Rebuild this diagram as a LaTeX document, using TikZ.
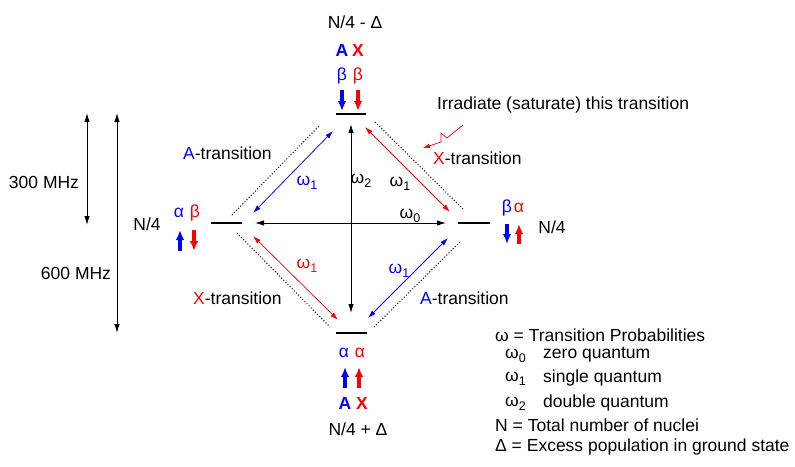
\documentclass[tikz,border=0pt]{standalone}
\usepackage{fontspec}
\setmainfont{Liberation Sans}
\usetikzlibrary{arrows.meta}
\definecolor{ablue}{RGB}{0,0,255}
\definecolor{xred}{RGB}{255,0,0}
\newcommand{\om}[1]{ω\raisebox{-4pt}{\fontsize{12.5}{12}\selectfont #1}}
\begin{document}
\begin{tikzpicture}[x=1pt,y=-1pt,
  font=\fontsize{17.5}{19}\selectfont,
  lvl/.style={line width=1.3pt},
  blk/.style={line width=1pt,{Latex[length=9pt,width=5.5pt]}-{Latex[length=9pt,width=5.5pt]}},
  tr/.style={line width=0.75pt,{Latex[length=8pt,width=5pt]}-{Latex[length=8pt,width=5pt]}},
  dots/.style={dotted,line width=1pt},
  spin/.style={line width=3.2pt,-{Latex[length=10pt,width=8.5pt]}},
  lbl/.style={inner sep=0pt},
  bold/.style={inner sep=0pt,font=\fontsize{17.5}{19}\selectfont\bfseries}]
\useasboundingbox (0,0) rectangle (795,466);

% energy levels
\draw[lvl] (336,114) coordinate (t1) -- (366,114) coordinate (t2);
\draw[lvl] (336,333) coordinate (b1) -- (367,333) coordinate (b2);
\draw[lvl] (211,223) coordinate (l1) -- (242,223) coordinate (l2);
\draw[lvl] (458,223) coordinate (r1) -- (490,223) coordinate (r2);

% level labels top
\node[lbl] (ntop) at (355,22) {N/4 - Δ};
\node[bold,text=ablue] (ta) at (342,50) {A};
\node[bold,text=xred] (tx) at (358,50) {X};
\node[lbl,text=ablue] (tb1) at (342,76) {β};
\node[lbl,text=xred] (tb2) at (358,76) {β};
\draw[spin,ablue] (342,90) coordinate (ts1) -- (342,111) coordinate (ts1e);
\draw[spin,xred] (358,90) coordinate (ts2) -- (358,111) coordinate (ts2e);

% left
\node[lbl] (nleft) at (147,224) {N/4};
\node[lbl,text=ablue] (la) at (179,213) {α};
\node[lbl,text=xred] (lb) at (195,213) {β};
\draw[spin,ablue] (180,251) coordinate (ls1) -- (180,230) coordinate (ls1e);
\draw[spin,xred] (194,230) coordinate (ls2) -- (194,251) coordinate (ls2e);

% right
\node[lbl] (nright) at (552,227) {N/4};
\node[lbl,text=ablue] (rb) at (507,208) {β};
\node[lbl,text=xred] (ra) at (519,208) {α};
\draw[spin,ablue] (507,224) coordinate (rs1) -- (507,244) coordinate (rs1e);
\draw[spin,xred] (519,244) coordinate (rs2) -- (519,224) coordinate (rs2e);

% bottom
\node[lbl,text=ablue] (ba1) at (344,353) {α};
\node[lbl,text=xred] (ba2) at (360,353) {α};
\draw[spin,ablue] (345,388) coordinate (bs1) -- (345,367) coordinate (bs1e);
\draw[spin,xred] (359,388) coordinate (bs2) -- (359,367) coordinate (bs2e);
\node[bold,text=ablue] (ba) at (345,403) {A};
\node[bold,text=xred] (bx) at (362,403) {X};
\node[lbl] (nbot) at (358,429) {N/4 + Δ};

% transitions
\coordinate (vt) at (351,124);
\coordinate (vb) at (351,313);
\coordinate (hl) at (255,223);
\coordinate (hr) at (446,223);
\draw[blk] (vt) -- (vb);
\draw[blk] (hl) -- (hr);

\coordinate (ul1) at (253,213); \coordinate (ul2) at (333,131);
\coordinate (ur1) at (365,127); \coordinate (ur2) at (450,212);
\coordinate (ll1) at (253,236); \coordinate (ll2) at (338,320);
\coordinate (lr1) at (448,238); \coordinate (lr2) at (368,318);
\draw[tr,ablue] (ul1) -- (ul2);
\draw[tr,xred] (ur1) -- (ur2);
\draw[tr,xred] (ll1) -- (ll2);
\draw[tr,ablue] (lr1) -- (lr2);

% dotted guides
\coordinate (d1a) at (232,215); \coordinate (d1b) at (320,125);
\coordinate (d2a) at (375,122); \coordinate (d2b) at (463,209);
\coordinate (d3a) at (237,233); \coordinate (d3b) at (330,327);
\coordinate (d4a) at (460,242); \coordinate (d4b) at (373,328);
\draw[dots] (d1a) -- (d1b);
\draw[dots] (d2a) -- (d2b);
\draw[dots] (d3a) -- (d3b);
\draw[dots] (d4a) -- (d4b);

% omega labels
\node[lbl,text=ablue] (w1ul) at (307,183) {\om{1}};
\node[lbl] (w2) at (361,181) {\om{2}};
\node[lbl] (w1ur) at (400,184) {\om{1}};
\node[lbl] (w0) at (410,216) {\om{0}};
\node[lbl,text=xred] (w1ll) at (307,266) {\om{1}};
\node[lbl,text=ablue] (w1lr) at (399,271) {\om{1}};

% transition names
\node[lbl,anchor=west] (atul) at (183,153) {\textcolor{ablue}{A}-transition};
\node[lbl,anchor=west] (xtur) at (433,158) {\textcolor{xred}{X}-transition};
\node[lbl,anchor=west] (xtll) at (193,298) {\textcolor{xred}{X}-transition};
\node[lbl,anchor=west] (atlr) at (420,298) {\textcolor{ablue}{A}-transition};

% irradiate
\node[lbl,anchor=west] (irr) at (437,105) {Irradiate (saturate) this transition};
\coordinate (zs) at (463,125);
\coordinate (zt) at (423,148);
\draw[xred,line width=0.7pt,-{Latex[length=7pt,width=4.5pt]}] (zs) -- (447,138) -- (441,133) -- (441,142) -- (zt);

% frequency scales
\coordinate (f3a) at (87,113); \coordinate (f3b) at (87,225);
\coordinate (f6a) at (117,113); \coordinate (f6b) at (117,333);
\draw[blk] (f3a) -- (f3b);
\draw[blk] (f6a) -- (f6b);
\node[lbl] (m300) at (44,182) {300 MHz};
\node[lbl] (m600) at (76,273) {600 MHz};

% legend
\node[lbl,anchor=west] (lg1) at (495,335) {ω = Transition Probabilities};
\node[lbl,anchor=west] (lg2) at (505,356) {\om{0}};
\node[lbl,anchor=west] (lg2t) at (543,355) {zero quantum};
\node[lbl,anchor=west] (lg3) at (505,379) {\om{1}};
\node[lbl,anchor=west] (lg3t) at (543,378) {single quantum};
\node[lbl,anchor=west] (lg4) at (505,404) {\om{2}};
\node[lbl,anchor=west] (lg4t) at (543,403) {double quantum};
\node[lbl,anchor=west] (lg5) at (495,425) {N = Total number of nuclei};
\node[lbl,anchor=west] (lg6) at (495,447) {Δ = Excess population in ground state};
\end{tikzpicture}
\end{document}
